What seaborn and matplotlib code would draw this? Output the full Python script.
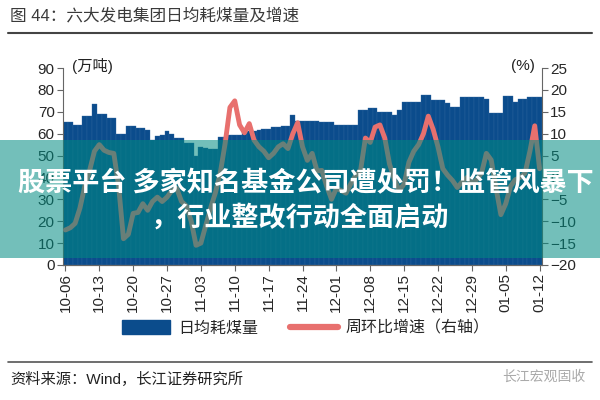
import numpy as np
import pandas as pd
import matplotlib
matplotlib.use("Agg")
import matplotlib.pyplot as plt
import seaborn as sns
from matplotlib.patches import Rectangle, Patch
from matplotlib.lines import Line2D

# Data (daily, 10-06 .. 01-12)
coal_use = [65.5, 65.5, 64, 64, 68, 68, 73.5, 69, 69, 67, 67, 60, 60, 63.6, 63.6,
            62.5, 62.5, 61.5, 57, 59, 59.4, 61, 60, 58, 58, 55.6, 55.6, 50, 54, 53.5,
            53, 53, 58.6, 58.6, 59.4, 59.4, 59.4, 61, 61, 61, 61.5, 62, 62, 63, 63,
            63.5, 63.5, 68.5, 66, 66, 66, 66, 66, 65.5, 65.5, 65.5, 64, 64, 64, 64,
            64, 71, 71, 71.8, 71.8, 70, 70, 70, 68.5, 70.8, 74.6, 74.6, 74.6, 74.6,
            77.6, 77.6, 75.3, 75.3, 75.3, 74, 72.3, 72.3, 76.6, 76.6, 76.9, 76.9,
            76.9, 75.8, 69.4, 69.4, 69.4, 77, 77, 74.6, 75.8, 75.8, 76.6, 76.6, 76.6]
wow_growth = [-12, -11.5, -10.5, -7, -2, 1.6, 6, 7.5, 6.2, 5.7, 5.5, -2, -14, -13, -8.2,
              -8, -6, -7.5, -5.5, -4.5, -5.5, -4.5, -3, -2.5, -5.5, -6.5, -10, -15.5,
              -15, -11, -7, -3.5, 1, 7.7, 16, 17.5, 12, 10.2, 12.3, 8.5, 7, 6, 4.5, 5.5,
              7, 7.7, 6.6, 10, 12.5, 7, 3.9, 5.5, 1.5, 1.6, -2, -5, -2.5, -3, -3.6,
              -1.4, 0.5, 1.6, 9, 8, 11.5, 12, 9, 3, -0.5, -3, -1.5, 3.5, 6, 7.5, 10,
              14, 11, 7, 2, 0.5, -0.7, -2.3, -1, 0, -1.4, -0.5, 1, 5.5, 4, -2.5, -8.5,
              -6, -2, -0.5, 0, 1, 6, 11.8, 2]
dates = pd.date_range("2023-10-06", periods=len(coal_use)).strftime("%m-%d")

df = pd.DataFrame({"date": dates, "coal": coal_use, "growth": wow_growth})
df["pos"] = np.arange(len(df))

navy = "#0b4c8c"
pink = "#e8706e"

sns.set_style("white")
plt.rcParams["font.family"] = ["Liberation Sans", "Noto Sans CJK SC", "DejaVu Sans"]

fig = plt.figure(figsize=(6, 4), dpi=100)
ax = fig.add_axes([63 / 600, 1 - 265 / 400, 479 / 600, 197 / 400])

sns.barplot(data=df, x="date", y="coal", color=navy, width=1.0, saturation=1,
            edgecolor="#2f68a0", linewidth=0.25, ax=ax)
ax.set_ylim(0, 90)
ax.set_xlim(-0.5, len(df) - 0.5)
ax.set_yticks(range(0, 91, 10))
ax.set_xlabel("")
ax.set_ylabel("")

ticks = df["pos"][::7]
ax.set_xticks(ticks)
ax.set_xticklabels(df["date"][::7], rotation=90, fontsize=11)

ax2 = ax.twinx()
sns.lineplot(data=df, x="pos", y="growth", color=pink, linewidth=3.5, ax=ax2,
             solid_joinstyle="round", solid_capstyle="round")
ax2.set_ylim(-20, 25)
ax2.set_yticks(range(-20, 26, 5))
ax2.set_xlim(-0.5, len(df) - 0.5)
ax2.set_xlabel("")
ax2.set_ylabel("")

for a in (ax, ax2):
    a.spines["top"].set_visible(False)
    for s in ("left", "right", "bottom"):
        a.spines[s].set_color("#666666")
        a.spines[s].set_linewidth(0.8)
    a.tick_params(axis="y", labelsize=11, length=4, width=0.8, color="#666666", pad=2)
    a.tick_params(axis="x", labelsize=11, length=4, width=0.8, color="#666666",
                  direction="out", bottom=True, pad=2)
ax.spines["right"].set_visible(False)
ax2.spines["left"].set_visible(False)

fig.text(72 / 600, 1 - 66 / 400, "(万吨)", fontsize=11, color="#222222", va="center")
fig.text(535 / 600, 1 - 66 / 400, "(%)", fontsize=11, color="#222222", va="center", ha="right")

# title and rules
fig.text(10 / 600, 1 - 16 / 400, "图 44：六大发电集团日均耗煤量及增速", fontsize=12,
         color="#3a3a3a", va="center")
fig.add_artist(Line2D([8 / 600, 592 / 600], [1 - 33 / 400, 1 - 33 / 400],
                      color="#444444", linewidth=1.5))
fig.add_artist(Line2D([8 / 600, 592 / 600], [1 - 362 / 400, 1 - 362 / 400],
                      color="#555555", linewidth=1.2))

# legend
handles = [Patch(facecolor=navy, edgecolor=navy),
           Line2D([0], [0], color=pink, linewidth=4.5)]
fig.legend(handles, ["日均耗煤量", "周环比增速（右轴）"], loc="center",
           bbox_to_anchor=(0.51, 1 - 328 / 400), ncol=2, frameon=False,
           fontsize=11.5, handlelength=3.0, handleheight=0.9, columnspacing=2.0,
           handletextpad=0.5)

fig.text(10 / 600, 1 - 379 / 400, "资料来源：Wind，长江证券研究所", fontsize=11,
         color="#222222", va="center")
fig.text(585 / 600, 1 - 377 / 400, "长江宏观固收", fontsize=10, color="#aaaaaa",
         va="center", ha="right")

# overlaid banner
banner = Rectangle((0, 1 - 258 / 400), 1, 118 / 400, transform=fig.transFigure,
                   facecolor=(0.0, 0.55, 0.51), alpha=0.55, edgecolor="none", zorder=10)
fig.add_artist(banner)
fig.text(0.51, 1 - 183 / 400, "股票平台 多家知名基金公司遭处罚！监管风暴下", fontsize=19.5,
         color="white", fontweight="bold", ha="center", va="center", zorder=11,
         family=["Noto Sans CJK SC", "DejaVu Sans"])
fig.text(0.5, 1 - 218 / 400, "，行业整改行动全面启动", fontsize=19.5,
         color="white", fontweight="bold", ha="center", va="center", zorder=11,
         family=["Noto Sans CJK SC", "DejaVu Sans"])

fig.savefig("out.png", dpi=100)
